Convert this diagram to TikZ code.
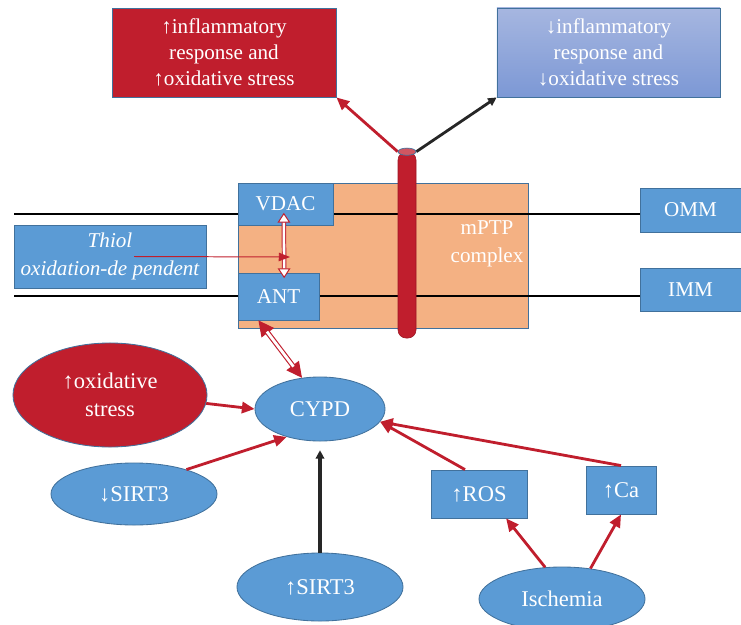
\documentclass[tikz,border=0pt]{standalone}
\usepackage{fontspec}
\setmainfont{Liberation Serif}
\usetikzlibrary{shapes.geometric, positioning, arrows.meta}
\definecolor{boxblue}{RGB}{91,155,213}
\definecolor{boxedge}{RGB}{65,113,156}
\definecolor{deepred}{RGB}{192,30,45}
\definecolor{peach}{RGB}{244,177,131}
\definecolor{lilactop}{RGB}{166,182,224}
\definecolor{lilacbot}{RGB}{124,152,213}
\tikzset{
    box/.style = {draw=boxedge, line width=0.6pt, fill=boxblue, text=white, align=center,
                  inner sep=1pt, font=\fontsize{15}{18.5}\selectfont},
    oval/.style = {box, ellipse, inner sep=0pt, font=\fontsize{16}{20}\selectfont},
    hotbox/.style = {box, fill=deepred},
    coolbox/.style = {box, top color=lilactop, bottom color=lilacbot},
}
\tikzset{
    membrane/.style = {draw=black, line width=0.8pt},
    push/.style = {draw=deepred, line width=2pt, -{Triangle[length=9pt, width=8pt]}},
    block/.style = {draw=black!85, line width=2.6pt, -{Triangle[length=6pt, width=6pt]}},
    bind/.style = {draw=deepred, line width=0.7pt, double=white, double distance=1.8pt,
                   {Triangle[open, fill=white, length=7pt, width=9pt]}-{Triangle[open, fill=white, length=7pt, width=9pt]}},
    swaptips/.style = {draw=deepred, line width=0.8pt,
                   {Triangle[length=11pt, width=11pt]}-{Triangle[length=11pt, width=11pt]}},
    swapshaft/.style = {draw=deepred, line width=0.8pt, double=white, double distance=2pt,
                   shorten <=10pt, shorten >=10pt},
}

\begin{document}
\begin{tikzpicture}[x=0.025cm, y=-0.025cm]
    \useasboundingbox (0,0) rectangle (741,624);
    \clip (0,0) rectangle (741,624);

    \node[hotbox, minimum width=5.6cm, minimum height=2.225cm] (worse) at (224,52.5)
        {↑inflammatory\\response and\\↑oxidative stress};
    \node[coolbox, minimum width=5.575cm, minimum height=2.225cm] (better) at (608.5,52.5)
        {↓inflammatory\\response and\\↓oxidative stress};

    \node[box, draw=boxedge, fill=peach, minimum width=7.25cm, minimum height=3.625cm] (mptp) at (383,255.5) {};
    \node[text=white, align=center, font=\fontsize{15}{20}\selectfont] (mptplabel) at (487,244) {mPTP\\complex};

    \node[box, minimum width=2.525cm, minimum height=1.1cm] (omm) at (690.5,210) {OMM};
    \node[box, minimum width=2.525cm, minimum height=1.075cm] (imm) at (690.5,289.5) {IMM};
    \coordinate (outer) at (14,214);
    \coordinate (inner) at (14,296);
    \draw[membrane] (outer) -- (outer -| omm.west);
    \draw[membrane] (inner) -- (inner -| imm.west);

    \node[box, minimum width=2.375cm, minimum height=1.05cm] (vdac) at (285.5,204) {VDAC};
    \node[box, minimum width=2.025cm, minimum height=1.175cm] (ant) at (278.5,296.5) {ANT};
    \node[box, minimum width=4.8cm, minimum height=1.575cm, font=\fontsize{15}{20}\selectfont\itshape] (thiol) at (110,256.5)
        {Thiol\\oxidation-de pendent};

    \draw[bind, shorten <=-9pt, shorten >=-4pt] ([xshift=-0.04cm]vdac.south) -- ([xshift=0.14cm]ant.north);
    \coordinate (hinge) at (290,257);
    \draw[draw=deepred, line width=0.7pt, -{Triangle[length=8pt, width=6pt]}] ([xshift=0.6cm]thiol.center) -- (hinge);

    % pore through both membranes
    \node[draw=deepred!80!black, line width=0.4pt, fill=deepred, rounded corners=0.2cm,
          minimum width=0.45cm, minimum height=4.65cm, inner sep=0pt] (pore) at (407,245) {};
    \draw[push] (pore.north west) -- (worse.south east);
    \draw[block, line width=2pt] (pore.north east) -- (better.south west);
    \draw[draw=boxedge, line width=0.5pt, fill=deepred!75!white] (pore.north) ellipse [x radius=0.225cm, y radius=0.09cm];

    \node[oval, fill=deepred, minimum width=4.85cm, minimum height=2.6cm] (ox) at (110,395) {↑oxidative\\stress};
    \node[oval, minimum width=3.25cm, minimum height=1.6cm] (cypd) at (320,409) {CYPD};
    \node[oval, minimum width=4.15cm, minimum height=1.55cm] (lowsirt) at (134,494) {↓SIRT3};
    \node[oval, minimum width=4.15cm, minimum height=1.7cm] (highsirt) at (320,587) {↑SIRT3};
    \node[oval, minimum width=4.15cm, minimum height=1.6cm] (isch) at (562,599) {Ischemia};
    \node[box, font=\fontsize{16}{20}\selectfont, minimum width=2.4cm, minimum height=1.2cm] (ros) at (479,494) {↑ROS};
    \node[box, font=\fontsize{16}{20}\selectfont, minimum width=1.75cm, minimum height=1.2cm] (ca) at (621,490) {↑Ca};

    \draw[swaptips] (ant.-130) -- (cypd.120);
    \draw[swapshaft] (ant.-130) -- (cypd.120);
    \draw[push] (ox.-5) -- (cypd.180);
    \draw[push] (lowsirt.25) -- (cypd.-140);
    \draw[block] (highsirt.north) -- ([yshift=-0.22cm]cypd.south);
    \draw[push] ([xshift=-0.35cm]ros.north) -- (cypd.-12);
    \draw[push] (ca.north) -- (cypd.-12);
    \draw[push] (isch.118) -- (ros.-42);
    \draw[push] (isch.47) -- (ca.south);
\end{tikzpicture}
\end{document}
